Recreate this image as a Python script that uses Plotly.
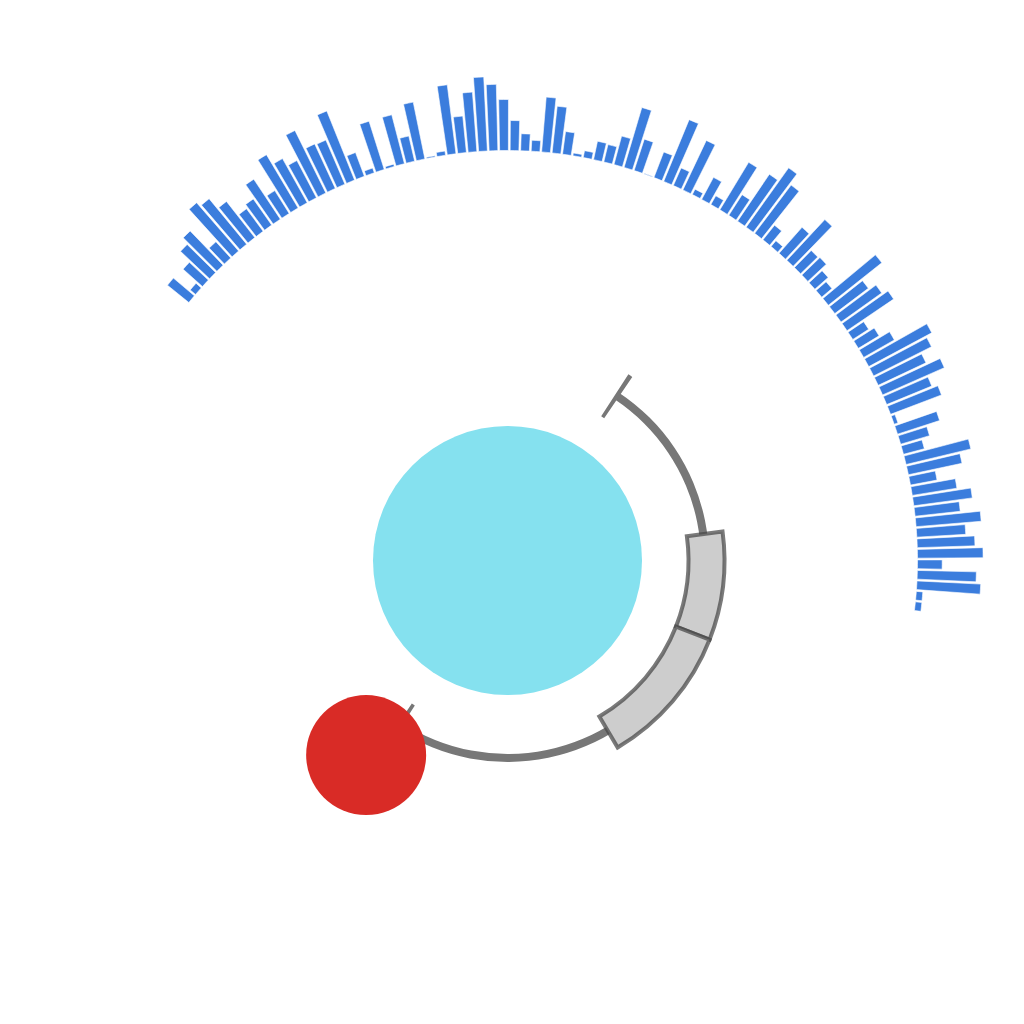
import math
import plotly.graph_objects as go

# ---- data -------------------------------------------------------------
bins = [str(i) for i in range(1, 102)]
coverage = [27.5, 7, 26, 40, 47.5, 22, 64, 59, 46, 28,
            32, 48, 27, 62, 50.6, 42, 69.7, 49, 48, 74.5,
            25.4, 5, 50.6, 2.4, 50.5, 25.8, 58, 1.2, 4.2, 69.5,
            36.7, 59.7, 74.2, 66.3, 51, 30, 17, 11, 55, 47,
            22.9, 2.8, 7, 18.8, 17.9, 29.5, 62.5, 33, 0.6, 27.4,
            66.8, 19.2, 54.7, 6, 25, 10, 55.5, 24.6, 56.6, 72.9,
            60.5, 18.6, 7.5, 34.7, 55.8, 24, 25.2, 17.7, 13.3, 68.3,
            42, 50, 56.3, 18.8, 24.2, 35.3, 71.5, 64.8, 52.8, 67.5,
            48.7, 54.5, 4, 44.2, 30.1, 21.6, 66.6, 54.8, 27, 45.2,
            59, 45.4, 65.3, 49, 57.7, 65.6, 24.7, 59, 63.8, 6.5, 6.5]

region_start = 56.4      # degrees
region_end = -123.2
feature_start = [7.7, -21.4]
feature_end = [-21.4, -59.5]
point_r = [240.5]
point_theta = [-126.0]

# ---- geometry / style --------------------------------------------------
W = H = 1024
CX, CY = 507.5, 560.5          # pixel centre of both polar subplots
R_OUT = 490.0                  # outer subplot radius (px == radial units)
R_IN = 300.0                   # inner subplot radius
SECTOR = [-10, 145]
BASE = 410
STEP = 1.468                   # degrees per bin
c0 = math.cos(math.radians(SECTOR[1]))
s0 = math.sin(math.radians(SECTOR[0]))
dom1_x = [(CX + c0 * R_OUT) / W, (CX + R_OUT) / W]
dom1_y = [(H - (CY - s0 * R_OUT)) / H, (H - (CY - R_OUT)) / H]
dom2_x = [(CX - R_IN) / W, (CX + R_IN) / W]
dom2_y = [(H - CY - R_IN) / H, (H - CY + R_IN) / H]

BLUE = "#3b7ddd"
GRAY = "#777777"

fig = go.Figure()

fig.add_trace(go.Barpolar(
    r=coverage, theta=bins, base=BASE, subplot="polar",
    marker=dict(color=BLUE, line=dict(color="white", width=0.6)),
    hoverinfo="skip",
))

# region arc
fig.add_trace(go.Barpolar(
    r=[8], theta=[(region_start + region_end) / 2],
    width=[abs(region_start - region_end)], base=193.5, subplot="polar2",
    marker=dict(color=GRAY, line=dict(width=0)), hoverinfo="skip",
))
# end ticks
fig.add_trace(go.Barpolar(
    r=[50, 50], theta=[region_start, region_end], width=[1.2, 1.2], base=172,
    subplot="polar2", marker=dict(color=GRAY, line=dict(width=0)),
    hoverinfo="skip",
))
# features
fig.add_trace(go.Barpolar(
    r=[36, 36],
    theta=[(a + b) / 2 for a, b in zip(feature_start, feature_end)],
    width=[abs(a - b) for a, b in zip(feature_start, feature_end)],
    base=181, subplot="polar2",
    marker=dict(color="#cdcdcd", line=dict(color="rgba(70,70,70,0.72)", width=4)),
    hoverinfo="skip",
))
# centre disc
fig.add_trace(go.Scatterpolar(
    r=[0], theta=[0], mode="markers", subplot="polar2", cliponaxis=False,
    marker=dict(size=269, color="#85e1ef", line=dict(width=0)), hoverinfo="skip",
))
# red point
fig.add_trace(go.Scatterpolar(
    r=point_r, theta=point_theta, mode="markers", subplot="polar2",
    cliponaxis=False,
    marker=dict(size=120, color="#d92b26", line=dict(width=0)), hoverinfo="skip",
))

hidden_radial = dict(visible=False, showgrid=False, showline=False,
                     showticklabels=False, ticks="")
hidden_ang = dict(visible=False, showgrid=False, showline=False,
                  showticklabels=False, ticks="")

fig.update_layout(
    width=W, height=H, margin=dict(l=0, r=0, t=0, b=0),
    paper_bgcolor="white", plot_bgcolor="white", showlegend=False,
    polar=dict(
        domain=dict(x=dom1_x, y=dom1_y), sector=SECTOR, hole=0,
        bgcolor="rgba(0,0,0,0)", bargap=0.17,
        radialaxis=dict(range=[0, R_OUT], **hidden_radial),
        angularaxis=dict(type="category", period=360 / STEP, rotation=140.4,
                         direction="clockwise", **hidden_ang),
    ),
    polar2=dict(
        domain=dict(x=dom2_x, y=dom2_y), bgcolor="rgba(0,0,0,0)",
        radialaxis=dict(range=[0, R_IN], **hidden_radial),
        angularaxis=dict(type="linear", rotation=0, direction="counterclockwise",
                         **hidden_ang),
    ),
)

fig.write_html("out.html")
